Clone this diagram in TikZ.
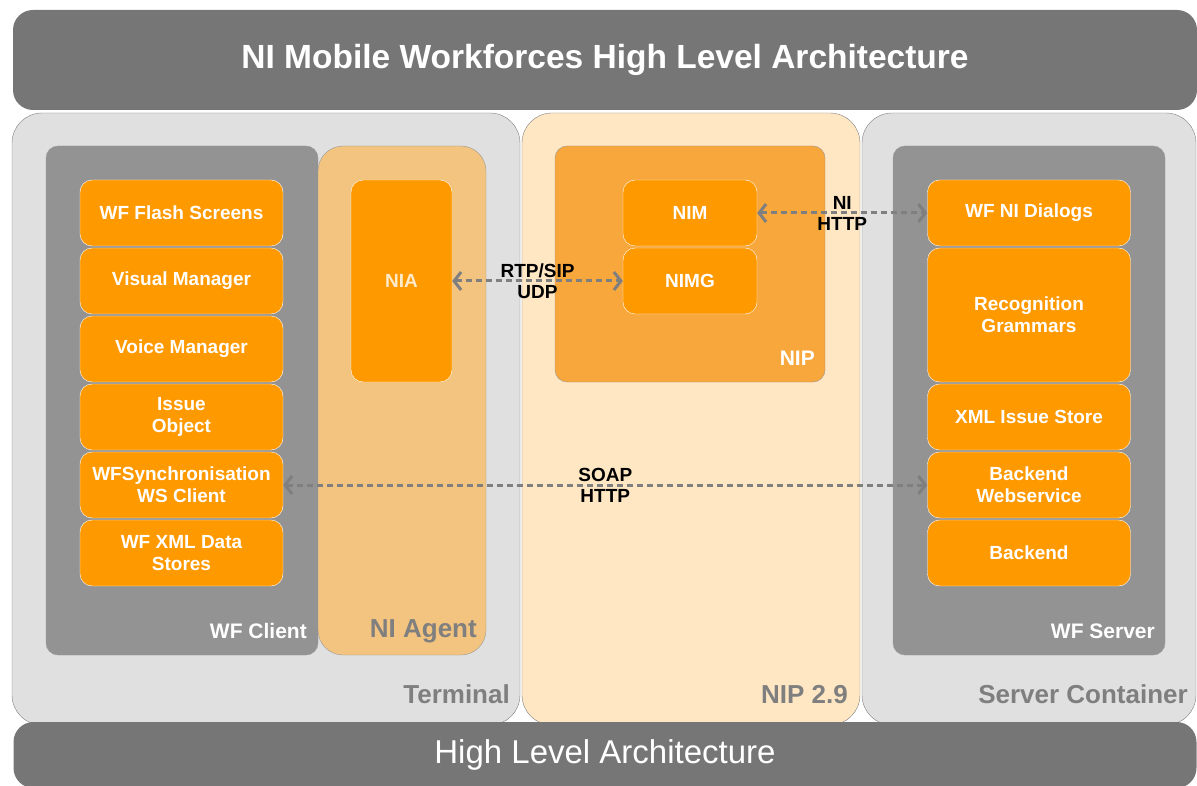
\documentclass[tikz,border=0pt]{standalone}
\usepackage{fontspec}
\setmainfont{Liberation Sans}
\usetikzlibrary{arrows.meta, calc, positioning}

\definecolor{nworange}{HTML}{FF9900}
\definecolor{nwbar}{HTML}{767676}
\definecolor{nwlight}{HTML}{E0E0E0}
\definecolor{nwdark}{HTML}{939393}
\definecolor{nwagent}{HTML}{F3C47F}
\definecolor{nwnip}{HTML}{FFE7C4}
\definecolor{nwnipin}{HTML}{F7A73C}
\definecolor{nwlabel}{HTML}{7F7F7F}

\begin{document}
\begin{tikzpicture}
[x=1pt, y=-1pt,
 bar/.style={fill=nwbar, rounded corners=20pt, text=white},
 container/.style={draw=gray, fill=nwlight, rounded corners=30pt, inner sep=0pt},
 group/.style={draw=gray!80, rounded corners=12pt, inner sep=0pt},
 box/.style={draw=white, fill=nworange, rounded corners=12pt, text=white,
  font=\fontsize{19}{22}\selectfont\bfseries, align=center,
  minimum width=203pt, inner sep=0pt},
 tag/.style={anchor=base east, inner sep=0pt, font=\fontsize{26}{30}\selectfont\bfseries},
 link/.style={<->, >={Straight Barb[length=7pt, width=18pt]}, draw=nwlabel,
  line width=3pt, dash pattern=on 6pt off 4pt},
 linklabel/.style={align=center, font=\fontsize{19}{21}\selectfont\bfseries}]
\useasboundingbox (0,0) rectangle (1197,786);

% containers
\node [container, minimum width=508pt, minimum height=612pt] (terminal) at (266,419) {};
\node [container, fill=nwnip, minimum width=338pt, minimum height=612pt] (nip29) at (691,419) {};
\node [container, minimum width=334pt, minimum height=612pt] (server) at (1029,419) {};

\node [group, fill=nwdark, minimum width=272pt, minimum height=509pt] (wf client) at (182,400.5) {};
\node [group, fill=nwagent, rounded corners=25pt, minimum width=168pt, minimum height=509pt] (ni agent) at (402,400.5) {};
\node [group, fill=nwnipin, minimum width=270pt, minimum height=236pt] (nip) at (690,264) {};
\node [group, fill=nwdark, minimum width=272pt, minimum height=509pt] (wf server) at (1029,400.5) {};

% bars
\node [bar, minimum width=1184pt, minimum height=100pt, font=\fontsize{33.5}{38}\selectfont\bfseries] (title) at (605,60) {NI Mobile Workforces High Level Architecture};
\node [bar, minimum width=1183pt, minimum height=66pt, font=\fontsize{33}{38}\selectfont] (footer) at (605,755) {High Level Architecture};

% client stack
\foreach \i/\txt in {1/WF Flash Screens, 2/Visual Manager, 3/Voice Manager,
  4/{Issue\\Object}, 5/{WFSynchronisation\\WS Client}, 6/{WF XML Data\\Stores}}{
	\node [box, minimum height=66pt] (client \i) at (181.5, 145+68*\i) {\txt};
}

% server stack
\foreach \i/\y/\h/\txt in {1/213/66/WF NI Dialogs, 2/315/134/{Recognition\\Grammars},
  3/417/66/XML Issue Store, 4/485/66/{Backend\\Webservice}, 5/553/66/Backend}{
	\node [box, minimum height=\h pt] (server \i) at (1029,\y) {\txt};
}

\node [box, minimum width=101pt, minimum height=202pt, text=white!80!nworange] (nia) at (401.5,281) {NIA};
\node [box, minimum width=134pt, minimum height=66pt] (nim) at (690,213) {NIM};
\node [box, minimum width=134pt, minimum height=66pt] (nimg) at (690,281) {NIMG};

% captions
\node [tag, text=nwlabel] at (510,703) {Terminal};
\node [tag, text=nwlabel] at (848,703) {NIP 2.9};
\node [tag, text=nwlabel] at (1188,703) {Server Container};
\node [tag, text=white, font=\fontsize{21}{25}\selectfont\bfseries] at (307,638) {WF Client};
\node [tag, text=nwlabel, font=\fontsize{26}{30}\selectfont\bfseries] at (477,637) {NI Agent};
\node [tag, text=white, font=\fontsize{21}{25}\selectfont\bfseries] at (1155,638) {WF Server};
\node [tag, text=white, font=\fontsize{21}{25}\selectfont\bfseries] at (815,366) {NIP};

% links
\draw [link] (nia) -- (nimg) node [linklabel, midway] {RTP/SIP\\UDP};
\draw [link] (nim) -- (server 1) node [linklabel, midway] {NI\\HTTP};
\draw [link] (client 5) -- (server 4) node [linklabel, midway] {SOAP\\HTTP};
\end{tikzpicture}
\end{document}
